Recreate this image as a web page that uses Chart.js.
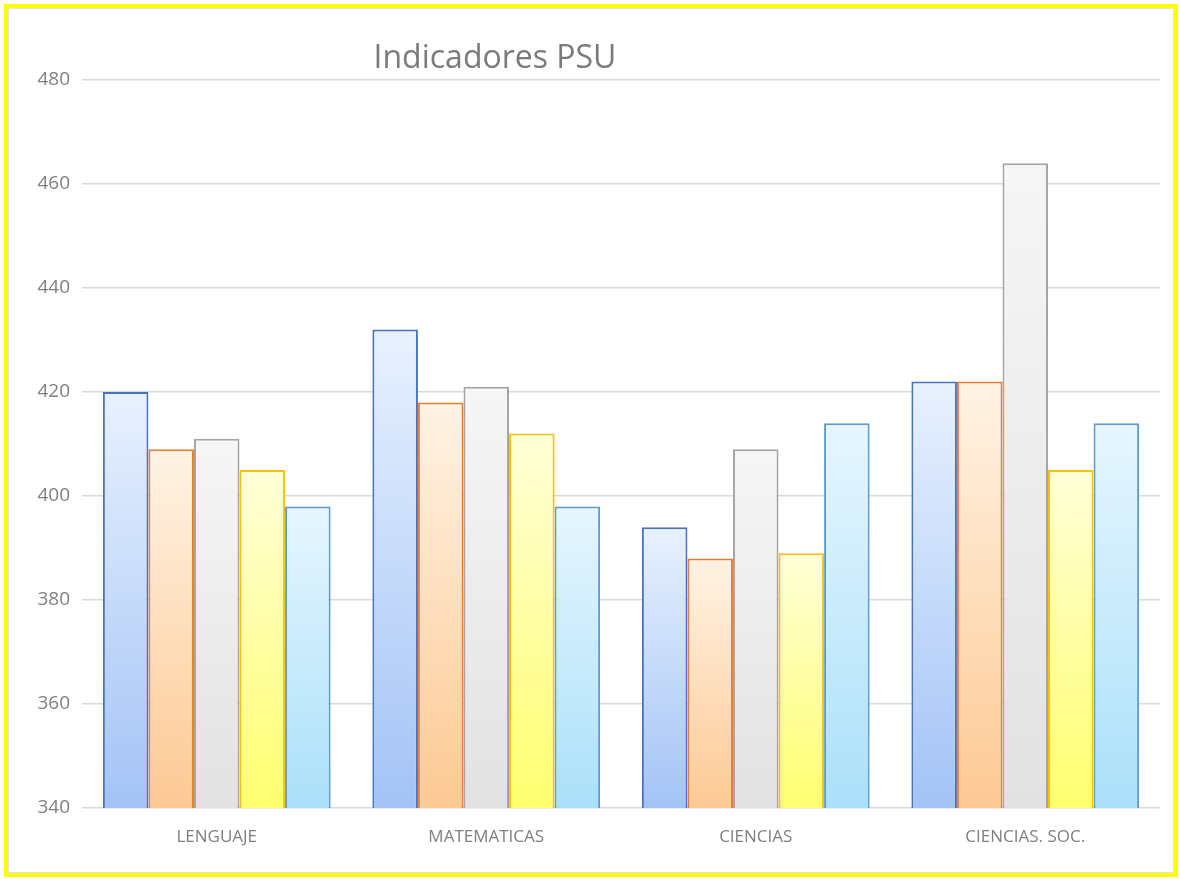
<!DOCTYPE html>
<html>
<head>
<meta charset="utf-8">
<script src="https://cdn.jsdelivr.net/npm/chart.js@4/dist/chart.umd.min.js"></script>
<style>
  body { margin: 0; background: #fff; }
  #wrap { position: relative; width: 1180px; height: 879px; }
  #frame { position: absolute; left: 4px; top: 4px; width: 1166px; height: 865px;
           border: 4px solid #ffff00; box-shadow: inset 0 0 0 1px #e3e3e3; pointer-events: none; }
</style>
</head>
<body>
<div id="wrap">
  <canvas id="chartjs-0" width="1180" height="879"></canvas>
  <div id="frame"></div>
</div>
<script>
"use strict";

// data
var categories = ["LENGUAJE", "MATEMATICAS", "CIENCIAS", "CIENCIAS. SOC."];
var serie1 = [420, 432, 394, 422];
var serie2 = [409, 418, 388, 422];
var serie3 = [411, 421, 409, 464];
var serie4 = [405, 412, 389, 405];
var serie5 = [398, 398, 414, 414];
var yTicks = [340, 360, 380, 400, 420, 440, 460, 480];

// colors: border, gradient top, gradient bottom
var styles = [
    ["#4472c4", "#e8f1fe", "#a3c3f6"],
    ["#ed7d31", "#fff3e4", "#fdc994"],
    ["#a5a5a5", "#f6f6f6", "#e2e2e2"],
    ["#ffc000", "#ffffd8", "#ffff70"],
    ["#5b9bd5", "#e6f6fe", "#abe0fa"]
];

function barGradient(idx) {
    return function (context) {
        var chart = context.chart;
        var area = chart.chartArea;
        if (!area || context.parsed === undefined || context.parsed === null) {
            return styles[idx][2];
        }
        var yScale = chart.scales.y;
        var top = yScale.getPixelForValue(context.parsed.y);
        var bottom = yScale.getPixelForValue(yScale.min);
        if (!isFinite(top) || !isFinite(bottom) || top === bottom) {
            return styles[idx][2];
        }
        var g = chart.ctx.createLinearGradient(0, top, 0, bottom);
        g.addColorStop(0, styles[idx][1]);
        g.addColorStop(1, styles[idx][2]);
        return g;
    };
}

var allSeries = [serie1, serie2, serie3, serie4, serie5];
var datasets = [];
for (var i = 0; i < allSeries.length; i++) {
    datasets.push({
        label: "Serie" + (i + 1),
        data: allSeries[i],
        backgroundColor: barGradient(i),
        borderColor: styles[i][0],
        borderWidth: 2,
        borderSkipped: false,
        categoryPercentage: 0.845,
        barPercentage: 1
    });
}

/* title drawn by hand, it sits left of center in the original */
var titlePlugin = {
    id: "psuTitle",
    afterDraw: function (chart) {
        var ctx = chart.ctx;
        ctx.save();
        ctx.font = "32px 'Open Sans', 'Noto Sans', sans-serif";
        ctx.fillStyle = "#7b7b7b";
        ctx.textAlign = "center";
        ctx.textBaseline = "middle";
        ctx.fillText("Indicadores PSU", 495, 59);
        ctx.restore();
    }
};

var ctx0 = document.getElementById("chartjs-0");
var myChart = new Chart(ctx0, {
    type: "bar",
    data: { labels: categories, datasets: datasets },
    options: {
        responsive: false,
        animation: false,
        layout: { padding: { top: 80, right: 20, left: 0, bottom: 0 } },
        plugins: {
            legend: { display: false },
            tooltip: { enabled: false }
        },
        scales: {
            x: {
                grid: { display: false },
                border: { display: false },
                ticks: {
                    color: "#7f7f7f",
                    padding: 11,
                    font: { family: "'Open Sans', 'Noto Sans', sans-serif", size: 17 }
                },
                afterFit: function (scale) { scale.height = 71; }
            },
            y: {
                min: 340,
                max: 480,
                afterBuildTicks: function (scale) {
                    scale.ticks = yTicks.map(function (v) { return { value: v }; });
                },
                grid: { color: "#d9d9d9", lineWidth: 1.5, drawTicks: false },
                border: { display: false },
                ticks: {
                    color: "#7f7f7f",
                    padding: 12,
                    font: { family: "'Open Sans', 'Noto Sans', sans-serif", size: 19 }
                },
                afterFit: function (scale) { scale.width = 82; }
            }
        }
    },
    plugins: [titlePlugin]
});
</script>
</body>
</html>
